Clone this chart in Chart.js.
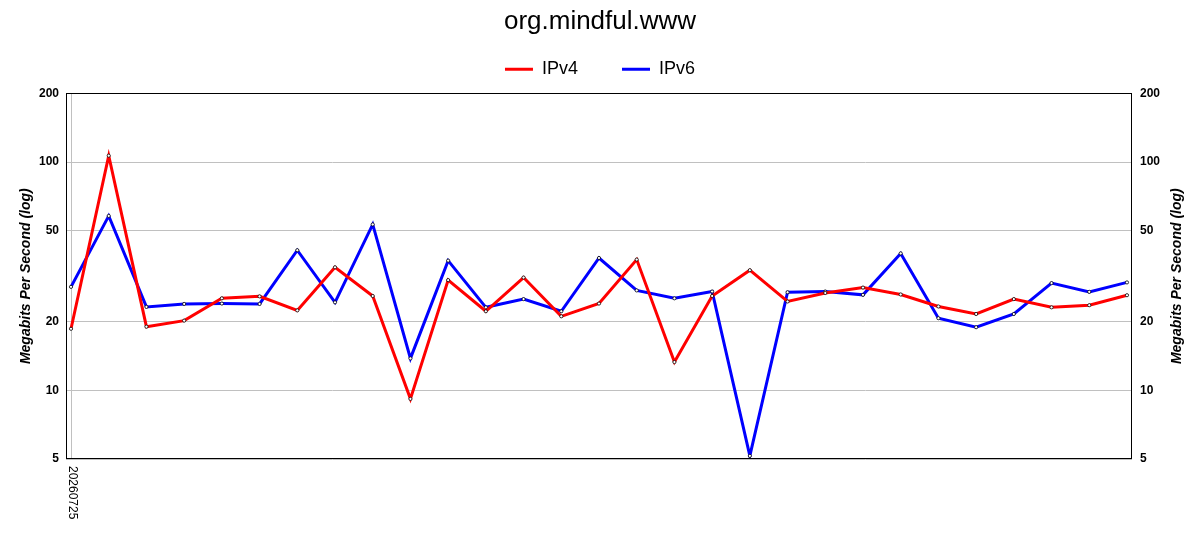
<!DOCTYPE html>
<html>
<head>
<meta charset="utf-8">
<title>org.mindful.www</title>
<script src="https://cdn.jsdelivr.net/npm/chart.js@4/dist/chart.umd.min.js"></script>
<style>
    body { margin: 0; background: #fff; }
    #wrap { width: 1200px; height: 550px; }
</style>
</head>
<body>
<div id="wrap"><canvas id="speedChart" width="1200" height="550"></canvas></div>
<script>
const xTickPositions = [0];
const xTickLabels = ['20260725'];
const yTicks = [5, 10, 20, 50, 100, 200];

const ipv4 = [18.6, 106.7, 19.0, 20.2, 25.3, 25.8, 22.4, 34.6, 25.9, 9.17, 30.4, 22.2, 31.2, 21.1, 24.0,
              37.4, 13.3, 25.9, 33.6, 24.5, 26.7, 28.2, 26.3, 23.3, 21.6, 25.1, 23.1, 23.6, 26.1];
const ipv6 = [28.4, 58.1, 23.2, 23.9, 24.0, 23.9, 41.1, 24.3, 53.3, 13.8, 37.0, 23.1, 25.1, 22.2, 38.0,
              27.4, 25.3, 27.1, 5.16, 26.9, 27.1, 26.2, 39.8, 20.7, 18.9, 21.6, 29.5, 27.0, 29.7];

const axisTitle = 'Megabits Per Second (log)';

Chart.defaults.font.family = '"Liberation Sans", Arial, sans-serif';
Chart.defaults.color = '#000';

function toPoints(values) {
    return values.map((v, i) => ({ x: i, y: v }));
}

// frame round the plot, the rotated date label and the right-hand axis title
const extras = {
    id: 'extras',
    afterDraw(chart) {
        const { ctx, chartArea: a, scales } = chart;
        ctx.save();
        ctx.strokeStyle = '#000';
        ctx.lineWidth = 1;
        ctx.strokeRect(Math.round(a.left) + 0.5, Math.round(a.top) + 0.5,
                       Math.round(a.right - a.left) - 1, Math.round(a.bottom - a.top) - 1);

        ctx.fillStyle = '#000';
        ctx.font = '12px "Liberation Sans", Arial, sans-serif';
        ctx.textAlign = 'left';
        ctx.textBaseline = 'middle';
        xTickPositions.forEach((pos, i) => {
            ctx.save();
            ctx.translate(scales.x.getPixelForValue(pos) + 1, a.bottom + 7);
            ctx.rotate(Math.PI / 2);
            ctx.fillText(xTickLabels[i], 0, 0);
            ctx.restore();
        });

        ctx.font = 'italic bold 14px "Liberation Sans", Arial, sans-serif';
        ctx.textAlign = 'center';
        ctx.translate(1177, (a.top + a.bottom) / 2);
        ctx.rotate(-Math.PI / 2);
        ctx.fillText(axisTitle, 0, 0);
        ctx.restore();
    }
};

new Chart(document.getElementById('speedChart'), {
    type: 'line',
    data: {
        datasets: [{
            label: 'IPv4',
            data: toPoints(ipv4),
            borderColor: '#ff0000',
            backgroundColor: '#ff0000',
            borderWidth: 3,
            pointRadius: 1.6,
            pointBackgroundColor: '#fff',
            pointBorderColor: '#000',
            pointBorderWidth: 0.8,
            tension: 0
        }, {
            label: 'IPv6',
            data: toPoints(ipv6),
            borderColor: '#0000ff',
            backgroundColor: '#0000ff',
            borderWidth: 3,
            pointRadius: 1.6,
            pointBackgroundColor: '#fff',
            pointBorderColor: '#000',
            pointBorderWidth: 0.8,
            tension: 0
        }]
    },
    options: {
        responsive: false,
        animation: false,
        layout: { padding: 0 },
        plugins: {
            title: {
                display: true,
                text: 'org.mindful.www',
                color: '#000',
                font: { size: 26, weight: 'normal' },
                padding: { top: 6, bottom: -21 }
            },
            // empty spacer between the legend and the plot
            subtitle: {
                display: true,
                text: '',
                weight: 500,
                font: { size: 1 },
                padding: { top: 4, bottom: 0 }
            },
            legend: {
                labels: {
                    boxWidth: 28,
                    boxHeight: 3,
                    padding: 44,
                    font: { size: 18 },
                    color: '#000',
                    generateLabels: function(chart) {
                        return Chart.defaults.plugins.legend.labels.generateLabels(chart).map(item => {
                            item.lineWidth = 0;
                            item.fillStyle = item.strokeStyle;
                            return item;
                        });
                    }
                }
            },
            tooltip: { enabled: false }
        },
        scales: {
            x: {
                type: 'linear',
                min: -0.133,
                max: 28.133,
                afterBuildTicks: function(scale) {
                    scale.ticks = xTickPositions.map(v => ({ value: v }));
                },
                afterFit: function(scale) {
                    scale.height = 91;
                },
                ticks: { display: false },
                grid: { color: '#c0c0c0', drawTicks: false },
                border: { display: false }
            },
            y: {
                type: 'logarithmic',
                position: 'left',
                min: 5,
                max: 200,
                afterBuildTicks: function(scale) {
                    scale.ticks = yTicks.map(v => ({ value: v }));
                },
                afterFit: function(scale) {
                    scale.width = 66;
                },
                ticks: {
                    padding: 7,
                    font: { size: 12, weight: 'bold' },
                    color: '#000',
                    callback: function(value) { return String(value); }
                },
                grid: { color: '#c0c0c0', drawTicks: false },
                border: { display: false },
                title: {
                    display: true,
                    text: axisTitle,
                    color: '#000',
                    font: { size: 14, weight: 'bold', style: 'italic' },
                    padding: { top: 18, bottom: 0 }
                }
            },
            y2: {
                type: 'logarithmic',
                position: 'right',
                min: 5,
                max: 200,
                afterBuildTicks: function(scale) {
                    scale.ticks = yTicks.map(v => ({ value: v }));
                },
                afterFit: function(scale) {
                    scale.width = 68;
                },
                ticks: {
                    padding: 8,
                    font: { size: 12, weight: 'bold' },
                    color: '#000',
                    callback: function(value) { return String(value); }
                },
                grid: { display: false, drawTicks: false },
                border: { display: false }
            }
        }
    },
    plugins: [extras]
});
</script>
</body>
</html>
